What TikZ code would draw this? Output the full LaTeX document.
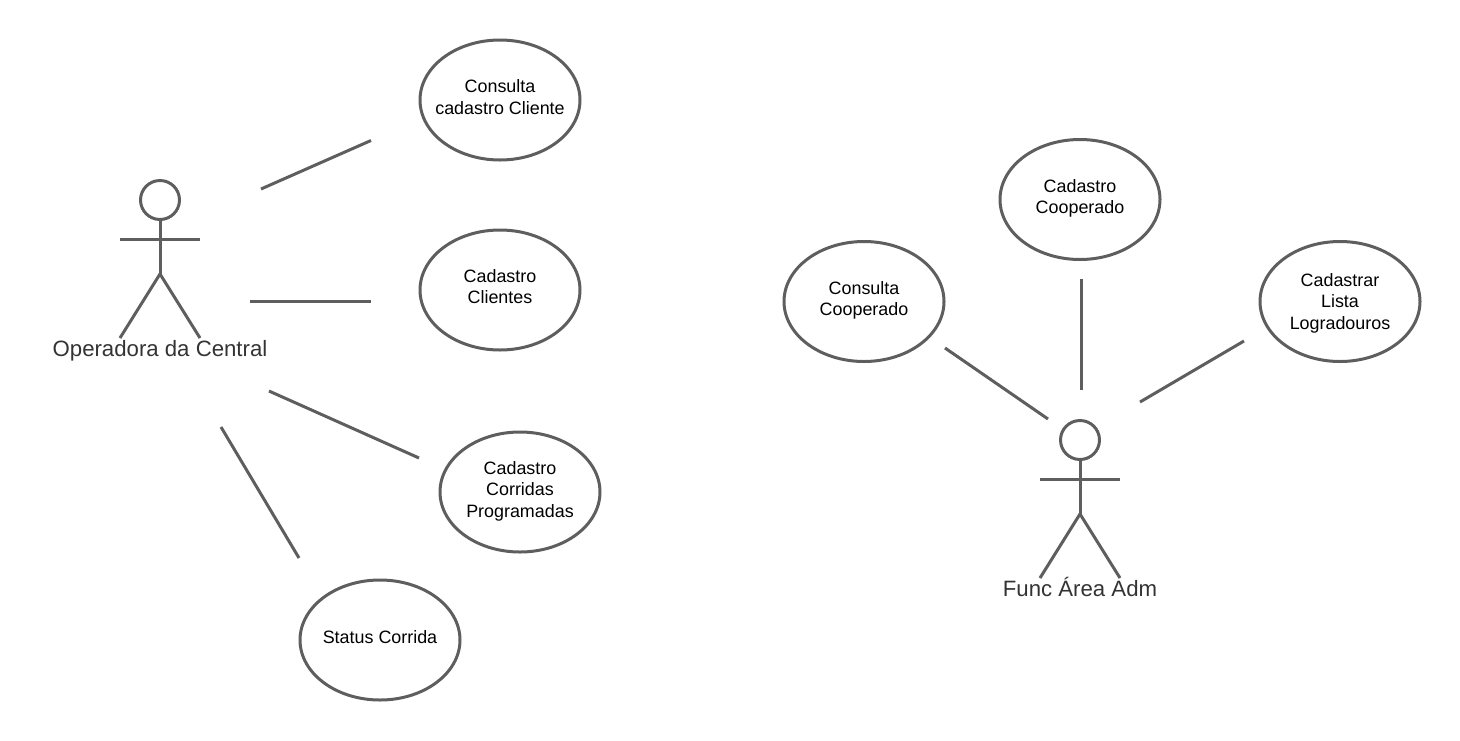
\documentclass[tikz,border=0pt]{standalone}
\usepackage{fontspec}
\setmainfont{Liberation Sans}
\definecolor{ln}{HTML}{5E5E5E}
\definecolor{act}{HTML}{333333}
\usetikzlibrary{shapes.geometric}
\newcommand{\lowerbox}[1]{\rule[-#1pt]{0pt}{#1pt}}
\newcommand{\upperbox}[1]{\rule{0pt}{#1pt}}
\tikzset{
  usecase/.style={draw=ln,line width=3pt,ellipse,minimum width=160pt,minimum height=120pt,inner ysep=0pt,inner xsep=-25pt,align=center,font=\fontsize{17.9}{21.5}\selectfont,text=black},
  link/.style={draw=ln,line width=3pt},
  actorlabel/.style={font=\fontsize{22.2}{25}\selectfont,text=act,inner sep=0pt,anchor=base},
  headc/.style={draw=ln,line width=3pt,circle,minimum size=39pt,inner sep=0pt}
}
\begin{document}
\begin{tikzpicture}[x=1pt,y=-1pt]
\useasboundingbox (0,0) rectangle (1460,740);
\node[usecase] (u1) at (500,100) {Consulta\\cadastro Cliente\lowerbox{6}};
\node[usecase] (u2) at (500,290) {Cadastro\\Clientes\lowerbox{6.5}};
\node[usecase] (u3) at (520,492) {Cadastro\\Corridas\\Programadas\lowerbox{5.8}};
\node[usecase] (u4) at (380,640) {Status Corrida\lowerbox{6}};
\node[usecase] (u5) at (864,301.5) {Consulta\\Cooperado\lowerbox{5.8}};
\node[usecase] (u6) at (1080,199.5) {Cadastro\\Cooperado\lowerbox{5.8}};
\node[usecase] (u7) at (1340,301.5) {\upperbox{16}Cadastrar\\Lista\\Logradouros};
% actor 1
\node[headc] (h1) at (160,200) {};
\coordinate (n1) at (160,274);
\coordinate (a1l) at (120,239.5);
\coordinate (a1r) at (200,239.5);
\coordinate (f1l) at (120,338);
\coordinate (f1r) at (200,338);
\draw[link] (h1) -- (n1);
\draw[link] (a1l) -- (a1r);
\draw[link,line join=miter] (f1l) -- (n1) -- (f1r);
\node[actorlabel] (l1) at (160,356) {Operadora da Central};
% actor 2
\node[headc] (h2) at (1080,440) {};
\coordinate (n2) at (1080,514);
\coordinate (a2l) at (1040,479.5);
\coordinate (a2r) at (1120,479.5);
\coordinate (f2l) at (1040,578);
\coordinate (f2r) at (1120,578);
\draw[link] (h2) -- (n2);
\draw[link] (a2l) -- (a2r);
\draw[link,line join=miter] (f2l) -- (n2) -- (f2r);
\node[actorlabel] (l2) at (1080,596) {Func Área Adm};
% free connectors
\coordinate (c1a) at (261,189); \coordinate (c1b) at (371,140.5);
\coordinate (c2a) at (250,301); \coordinate (c2b) at (371,301);
\coordinate (c3a) at (269,391); \coordinate (c3b) at (419,458);
\coordinate (c4a) at (221,427); \coordinate (c4b) at (299,558);
\coordinate (c5a) at (945,348); \coordinate (c5b) at (1048,419);
\coordinate (c6a) at (1081,279); \coordinate (c6b) at (1081,390);
\coordinate (c7a) at (1244,341); \coordinate (c7b) at (1140,402);
\draw[link] (c1a) -- (c1b);
\draw[link] (c2a) -- (c2b);
\draw[link] (c3a) -- (c3b);
\draw[link] (c4a) -- (c4b);
\draw[link] (c5a) -- (c5b);
\draw[link] (c6a) -- (c6b);
\draw[link] (c7a) -- (c7b);
\end{tikzpicture}
\end{document}
